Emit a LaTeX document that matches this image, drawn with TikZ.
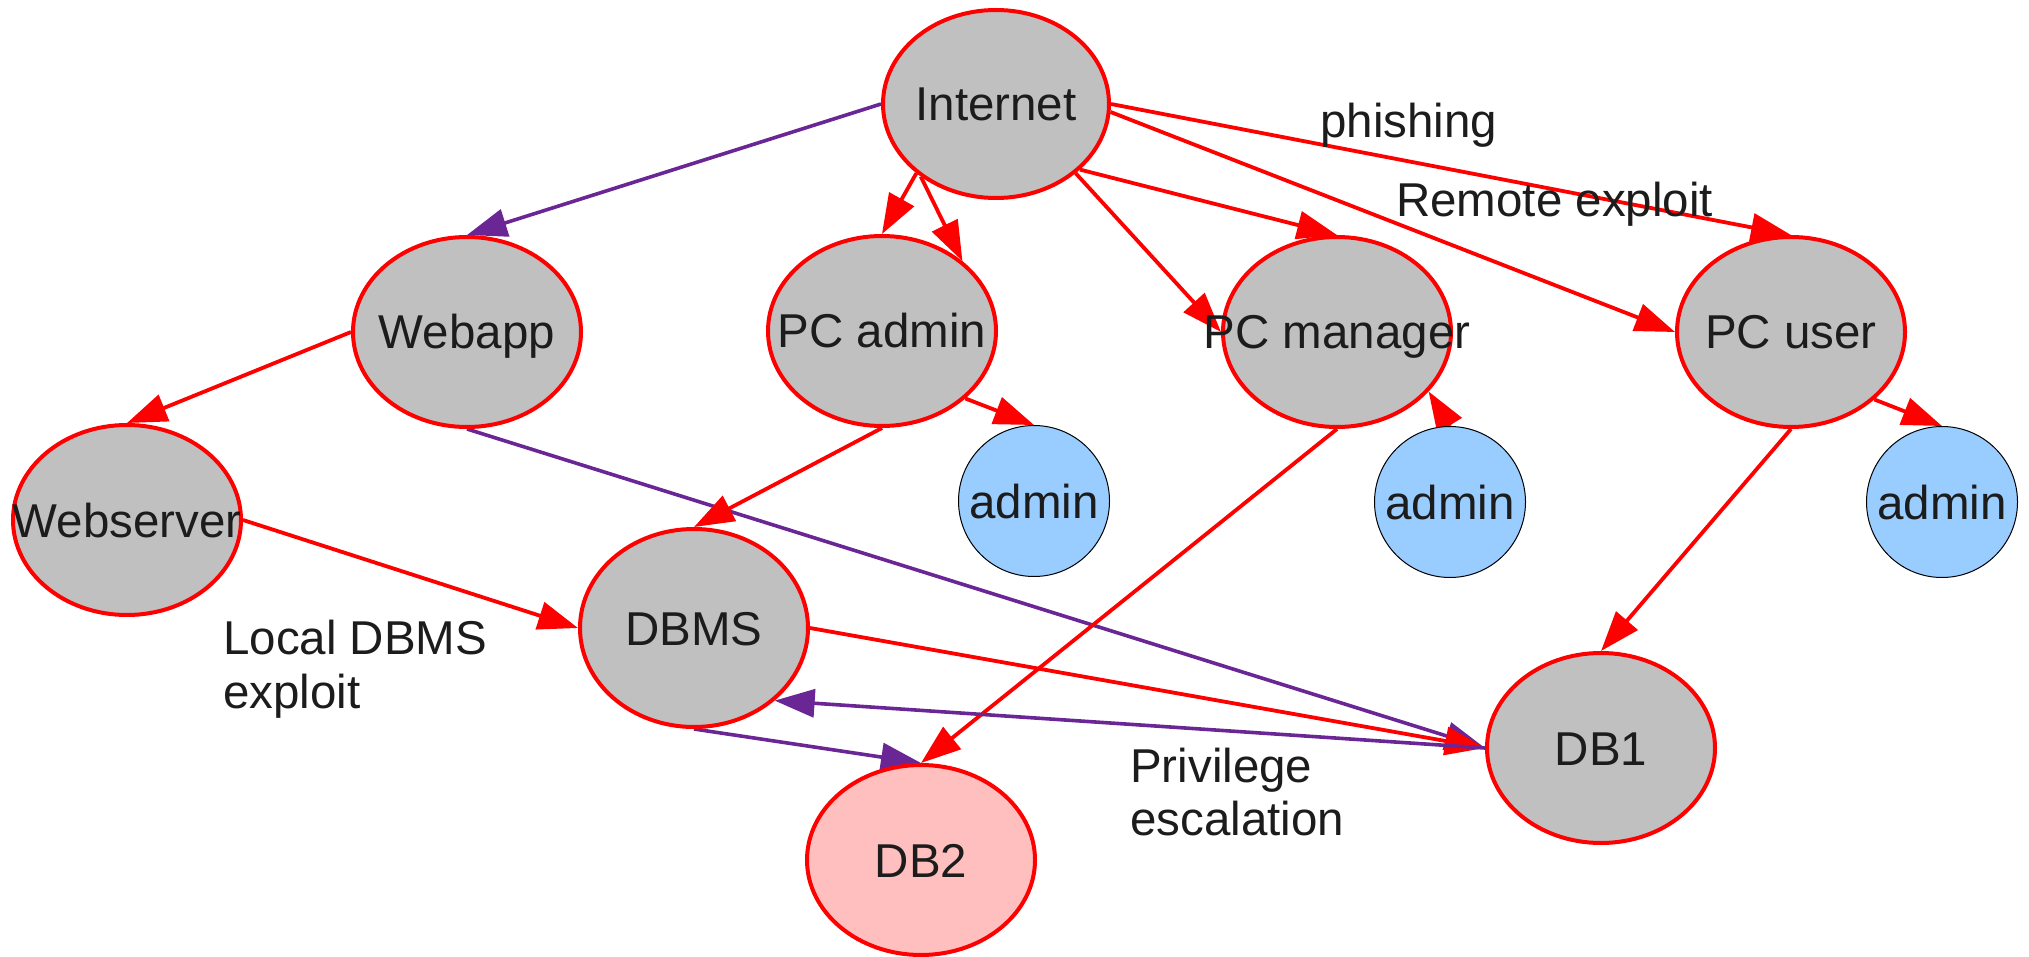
\documentclass[tikz,border=0pt]{standalone}
\usepackage{fontspec}
\setmainfont{Liberation Sans}
\usetikzlibrary{arrows.meta,shapes.geometric}
\definecolor{nodegray}{HTML}{C0C0C0}
\definecolor{myred}{HTML}{FF0000}
\definecolor{mypurple}{HTML}{6B2695}
\definecolor{lightblue}{HTML}{99CCFF}
\definecolor{pinkfill}{HTML}{FFBFBF}
\definecolor{txt}{HTML}{1C1C1C}
\pgfdeclarelayer{edgelayer}
\pgfsetlayers{edgelayer,main}
\newcommand{\ctext}[1]{\makebox[0pt]{#1}}
\begin{document}
\begin{tikzpicture}[x=1pt,y=-1pt,
  ell/.style={ellipse, draw=myred, line width=4pt, fill=nodegray,
    minimum width=228pt, minimum height=190pt, inner sep=0pt, text=txt,
    font=\fontsize{47.5}{55}\selectfont, text height=34pt, text depth=0pt},
  adm/.style={circle, draw=black, line width=1pt, fill=lightblue,
    minimum size=151pt, inner sep=0pt, text=txt,
    font=\fontsize{47.5}{55}\selectfont, text height=34pt, text depth=0pt},
  lbl/.style={inner sep=0pt, text=txt, font=\fontsize{47.5}{55}\selectfont, anchor=base west},
  redarr/.style={draw=myred, line width=3.8pt, -{Triangle[length=40pt,width=28pt]}},
  purarr/.style={draw=mypurple, line width=3.6pt, -{Triangle[length=40pt,width=28pt]}}
]
\useasboundingbox (0,0) rectangle (2029,957);

% nodes
\node[ell, minimum width=226pt, minimum height=188pt] (inet) at (996,104) {\ctext{Internet}};
\node[ell] (webapp) at (467,332) {\ctext{Webapp}};
\node[ell] (pcadmin) at (882,331) {\ctext{PC admin}};
\node[ell] (pcman) at (1337,332) {\ctext{PC manager}};
\node[ell] (pcuser) at (1791,332) {\ctext{PC user}};
\node[ell] (websrv) at (127,520) {\ctext{Webserver}};
\node[ell, minimum height=198pt] (dbms) at (694,628) {\ctext{DBMS}};
\node[ell] (db1) at (1601,748) {\ctext{DB1}};
\node[ell, fill=pinkfill] (db2) at (921,860) {\ctext{DB2}};
\node[adm] (adm1) at (1034,501) {admin};
\node[adm] (adm2) at (1450,502) {admin};
\node[adm] (adm3) at (1942,502) {admin};

% labels
\node[lbl] (lphish) at (1320,138) {phishing};
\node[lbl] (lremote) at (1396,217) {Remote exploit};
\node[lbl] (llocala) at (223,654) {Local DBMS};
\node[lbl] (llocalb) at (223,708) {exploit};
\node[lbl] (lpriva) at (1130,782) {Privilege};
\node[lbl] (lprivb) at (1130,835) {escalation};

% edges
\begin{pgfonlayer}{edgelayer}
\draw[purarr] (inet.west) -- (webapp.north);
\draw[redarr] (inet.221) -- (pcadmin.north);
\draw[redarr] (inet.224) -- (pcadmin.41);
\draw[redarr] (inet.-41) -- (pcman.west);
\draw[redarr] (inet.-38) -- (pcman.north);
\draw[redarr] (inet.0) -- (pcuser.north);
\draw[redarr] (inet.-4) -- (pcuser.west);
\draw[redarr] (webapp.west) -- (websrv.north);
\draw[purarr] (webapp.south) -- (db1.west);
\draw[redarr] (pcadmin.south) -- (dbms.north);
\draw[redarr] (pcadmin.-39) -- (adm1.north);
\draw[redarr] (adm2.north) -- (pcman.-33);
\draw[redarr] (pcman.south) -- (db2.north);
\draw[redarr] (pcuser.-39) -- (adm3.north);
\draw[redarr] (pcuser.south) -- (db1.north);
\draw[redarr] (websrv.east) -- (dbms.west);
\draw[redarr] (dbms.east) -- (db1.west);
\draw[purarr] (db1.west) -- (dbms.-42);
\draw[purarr] (dbms.south) -- (db2.north);
\end{pgfonlayer}
\end{tikzpicture}
\end{document}
